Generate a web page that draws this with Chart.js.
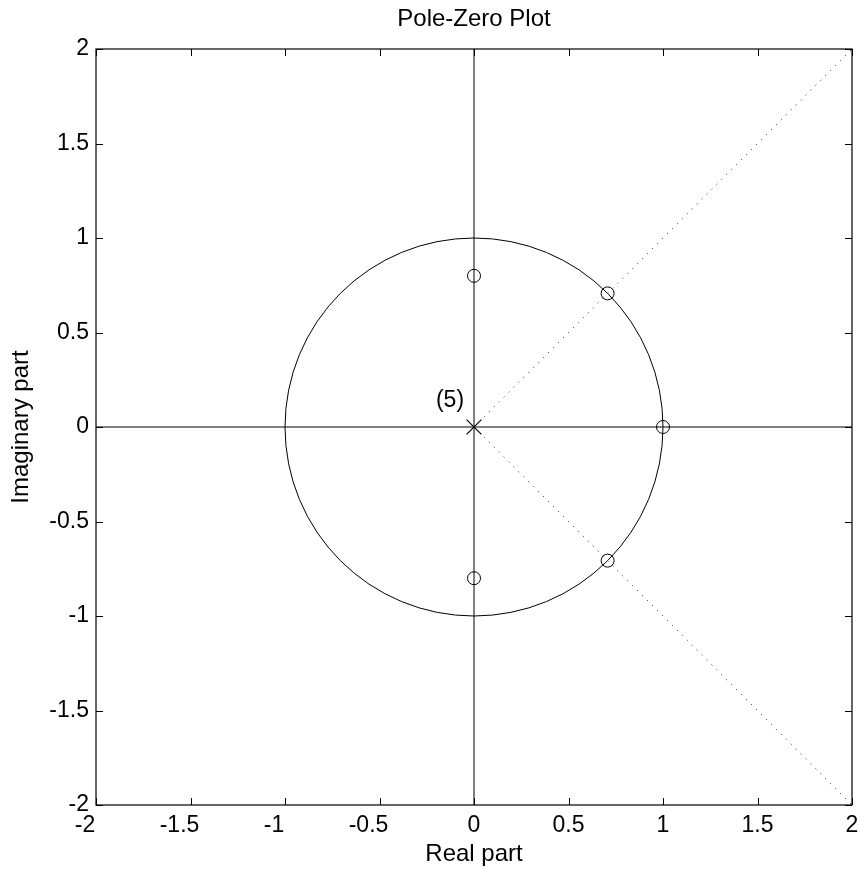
<!DOCTYPE html>
<html>
<head>
<meta charset="utf-8">
<title>Pole-Zero Plot</title>
<script src="https://cdn.jsdelivr.net/npm/chart.js@4.4.1/dist/chart.umd.min.js"></script>
<style>
  html, body { margin: 0; padding: 0; background: #fff; }
  canvas { display: block; }
</style>
</head>
<body>
<canvas id="pz" width="861" height="869"></canvas>
<script>
// dados do diagrama de polos e zeros
const zerosRe = [0, 0, 0.707, 0.707, 1];
const zerosIm = [0.8, -0.8, 0.707, -0.707, 0];
const polesRe = [0];
const polesIm = [0];
const polesLabel = ["(5)"];
const unitRadius = 1;
// linhas pontilhadas (origem ate o canto)
const rayX = [0, 2];
const rayUpY = [0, 2];
const rayDownY = [0, -2];
// eixos real e imaginario
const axisSpan = [-2, 2];
const tickValues = [-2, -1.5, -1, -0.5, 0, 0.5, 1, 1.5, 2];

const FONT = "'Liberation Sans', Arial, Helvetica, sans-serif";

function pts(xs, ys) {
  return xs.map((x, i) => ({ x, y: ys[i] }));
}

// desenha moldura, ticks internos, circulo unitario e rotulos
const pzPlugin = {
  id: "pzPlugin",
  beforeDatasetsDraw(chart) {
    const { ctx, chartArea, scales } = chart;
    const xs = scales.x, ys = scales.y;
    const cx = xs.getPixelForValue(0), cy = ys.getPixelForValue(0);
    const r = xs.getPixelForValue(unitRadius) - cx;
    ctx.save();
    ctx.beginPath();
    ctx.rect(chartArea.left, chartArea.top, chartArea.width, chartArea.height);
    ctx.clip();
    ctx.strokeStyle = "#000";
    ctx.lineWidth = 1;
    ctx.beginPath();
    ctx.arc(cx, cy, r, 0, Math.PI * 2);
    ctx.stroke();
    ctx.restore();
  },
  afterDraw(chart) {
    const { ctx, chartArea: a, scales } = chart;
    const xs = scales.x, ys = scales.y;
    const tl = 7;
    ctx.save();
    ctx.strokeStyle = "#000";
    ctx.lineWidth = 1.2;
    ctx.strokeRect(a.left, a.top, a.right - a.left, a.bottom - a.top);
    ctx.lineWidth = 1;
    ctx.beginPath();
    xs.ticks.forEach(t => {
      const px = Math.round(xs.getPixelForValue(t.value)) + 0.5;
      ctx.moveTo(px, a.bottom); ctx.lineTo(px, a.bottom - tl);
      ctx.moveTo(px, a.top); ctx.lineTo(px, a.top + tl);
    });
    ys.ticks.forEach(t => {
      const py = Math.round(ys.getPixelForValue(t.value)) + 0.5;
      ctx.moveTo(a.left, py); ctx.lineTo(a.left + tl, py);
      ctx.moveTo(a.right, py); ctx.lineTo(a.right - tl, py);
    });
    ctx.stroke();

    // rotulos do eixo x (negativos deslocados como no original)
    ctx.fillStyle = "#000";
    ctx.font = "23px " + FONT;
    ctx.textAlign = "center";
    ctx.textBaseline = "middle";
    xs.ticks.forEach(t => {
      const px = xs.getPixelForValue(t.value);
      const shift = t.value < 0 ? -11 : 0;
      ctx.fillText(String(t.value), px + shift, a.bottom + 21);
    });

    // multiplicidade do polo
    polesLabel.forEach((lab, i) => {
      const px = xs.getPixelForValue(polesRe[i]);
      const py = ys.getPixelForValue(polesIm[i]);
      ctx.fillText(lab, px - 24, py - 26);
    });
    ctx.restore();
  }
};

const lineStyle = {
  showLine: true,
  pointRadius: 0,
  borderColor: "#000",
  borderWidth: 1
};

new Chart(document.getElementById("pz"), {
  type: "scatter",
  data: {
    datasets: [
      { ...lineStyle, label: "eixo real", data: pts(axisSpan, [0, 0]) },
      { ...lineStyle, label: "eixo imag", data: pts([0, 0], axisSpan) },
      { ...lineStyle, label: "raio+", data: pts(rayX, rayUpY), borderDash: [1, 6], borderColor: "#222" },
      { ...lineStyle, label: "raio-", data: pts(rayX, rayDownY), borderDash: [1, 6], borderColor: "#222" },
      {
        label: "zeros",
        data: pts(zerosRe, zerosIm),
        pointStyle: "circle",
        pointRadius: 6.5,
        pointBorderWidth: 1,
        pointBorderColor: "#000",
        pointBackgroundColor: "rgba(0,0,0,0)"
      },
      {
        label: "polos",
        data: pts(polesRe, polesIm),
        pointStyle: "crossRot",
        pointRadius: 10.5,
        pointBorderWidth: 1.2,
        pointBorderColor: "#000"
      }
    ]
  },
  options: {
    responsive: false,
    animation: false,
    layout: { autoPadding: false, padding: { left: 0, right: 9, top: 0, bottom: 0 } },
    plugins: {
      legend: { display: false },
      tooltip: { enabled: false },
      title: {
        display: true,
        fullSize: false,
        text: "Pole-Zero Plot",
        color: "#000",
        font: { family: FONT, size: 24, weight: "normal", lineHeight: 1.2 },
        padding: { top: 5, bottom: 15.2 }
      }
    },
    scales: {
      x: {
        type: "linear",
        min: -2,
        max: 2,
        afterBuildTicks: s => { s.ticks = tickValues.map(v => ({ value: v })); },
        afterFit: s => { s.height = 64; },
        grid: { display: false },
        border: { display: false },
        ticks: { display: false },
        title: {
          display: true,
          text: "Real part",
          color: "#000",
          font: { family: FONT, size: 24, lineHeight: 1.2 },
          padding: { top: 0, bottom: 0 }
        }
      },
      y: {
        type: "linear",
        min: -2,
        max: 2,
        afterBuildTicks: s => { s.ticks = tickValues.map(v => ({ value: v })); },
        afterFit: s => { s.width = 96; },
        grid: { display: false, drawTicks: false },
        border: { display: false },
        ticks: {
          color: "#000",
          padding: 7,
          font: { family: FONT, size: 23 },
          callback: v => String(v)
        },
        title: {
          display: true,
          text: "Imaginary part",
          color: "#000",
          font: { family: FONT, size: 24, lineHeight: 1.2 },
          padding: { top: 7, bottom: 0 }
        }
      }
    }
  },
  plugins: [pzPlugin]
});
</script>
</body>
</html>
